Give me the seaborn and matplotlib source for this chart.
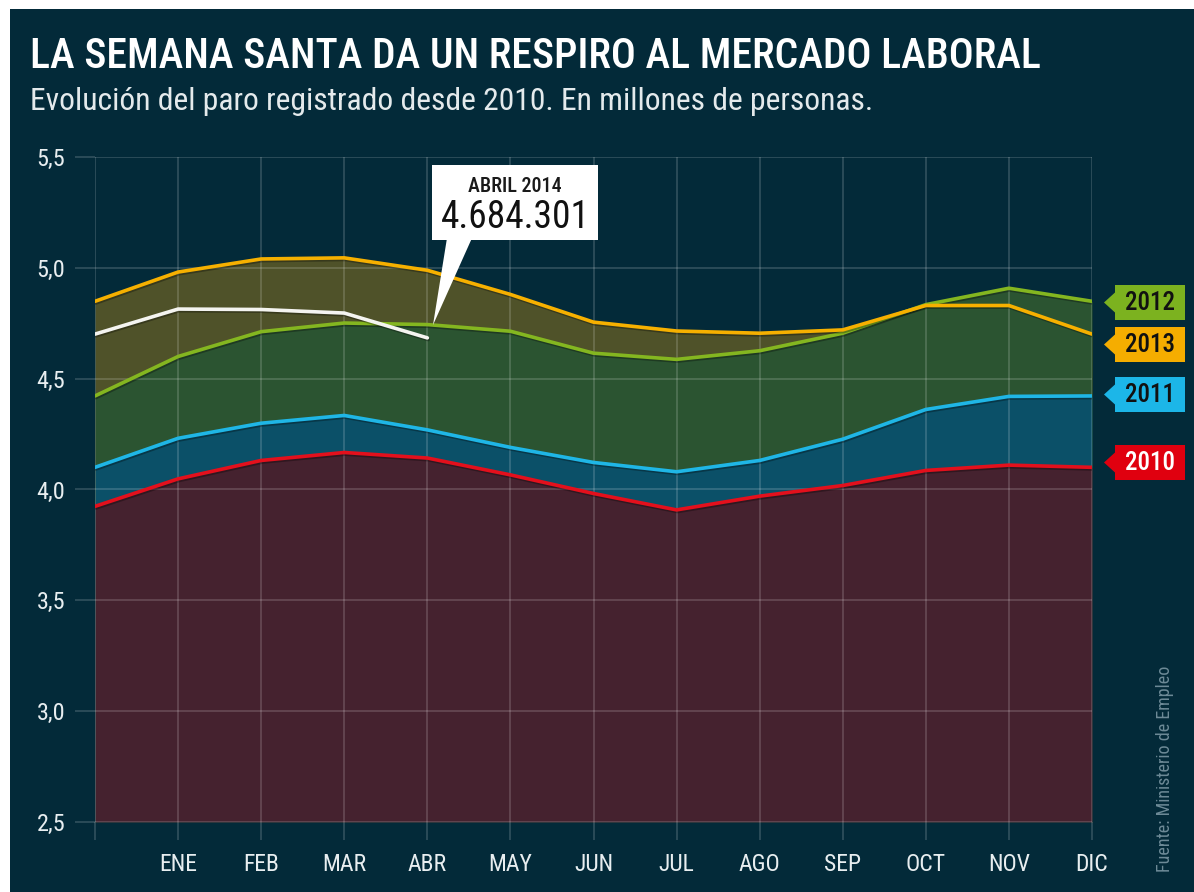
import numpy as np
import pandas as pd
import seaborn as sns
import matplotlib
matplotlib.use("Agg")
import matplotlib.pyplot as plt
import matplotlib.patheffects as pe
from matplotlib.patches import Rectangle, Polygon

# ---------------- data (millions of registered unemployed) ----------------
months = ["", "ENE", "FEB", "MAR", "ABR", "MAY", "JUN", "JUL", "AGO", "SEP", "OCT", "NOV", "DIC"]
y2010 = [3.924, 4.048, 4.131, 4.167, 4.142, 4.066, 3.982, 3.908, 3.970, 4.018, 4.086, 4.110, 4.100]
y2011 = [4.100, 4.231, 4.299, 4.334, 4.269, 4.190, 4.122, 4.080, 4.131, 4.227, 4.361, 4.420, 4.422]
y2012 = [4.422, 4.600, 4.712, 4.751, 4.744, 4.714, 4.615, 4.587, 4.626, 4.705, 4.834, 4.908, 4.849]
y2013 = [4.849, 4.981, 5.040, 5.045, 4.989, 4.880, 4.755, 4.715, 4.705, 4.720, 4.830, 4.830, 4.701]
y2014 = [4.701, 4.814, 4.812, 4.796, 4.684]
yticks = [2.5, 3.0, 3.5, 4.0, 4.5, 5.0, 5.5]
ytick_labels = ["2,5", "3,0", "3,5", "4,0", "4,5", "5,0", "5,5"]

W, H = 1194, 892
BG = "#032a39"
FONT = ["Roboto Condensed", "Liberation Sans Narrow", "Roboto", "DejaVu Sans"]

sns.set_theme(style="white")
plt.rcParams["font.family"] = FONT

fig = plt.figure(figsize=(W / 100, H / 100), dpi=100, facecolor="white")


def fx(px):
    return px / W


def fy(py):
    return 1 - py / H


fig.patches.append(Rectangle((fx(10), 0), 1, fy(9), transform=fig.transFigure,
                             facecolor=BG, edgecolor="none", zorder=-10))

ax = fig.add_axes([fx(95), fy(822), fx(1092) - fx(95), fy(157) - fy(822)])
ax.set_facecolor("none")
ax.set_zorder(1)

x = np.arange(len(months))
series = {
    "2013": (y2013, "#f6b000", "#4f5229"),
    "2012": (y2012, "#84b620", "#2b5431"),
    "2011": (y2011, "#1fb6e6", "#0b5068"),
    "2010": (y2010, "#e3101c", "#45222f"),
}

# overlapping area fills (drawn back to front)
for i, (name, (vals, lc, fc)) in enumerate(series.items()):
    ax.fill_between(x, 2.5, vals, color=fc, lw=0, zorder=1 + i * 0.1)

rows = []
for name, (vals, lc, fc) in series.items():
    for xi, v in zip(x, vals):
        rows.append({"x": xi, "valor": v, "año": name})
for xi, v in enumerate(y2014):
    rows.append({"x": xi, "valor": v, "año": "2014"})
df = pd.DataFrame(rows)

palette = {k: v[1] for k, v in series.items()}
palette["2014"] = "#f4f4f0"
shadow = [pe.SimpleLineShadow(offset=(0.6, -1.2), shadow_color="black", alpha=0.3), pe.Normal()]
for name in ["2010", "2011", "2012", "2013", "2014"]:
    sub = df[df["año"] == name]
    sns.lineplot(data=sub, x="x", y="valor", color=palette[name], lw=2.6, ax=ax,
                 zorder=4, legend=False, path_effects=shadow)

ax.set_xlim(0, 12)
ax.set_ylim(2.5, 5.5)
ax.set_xlabel("")
ax.set_ylabel("")
for s in ax.spines.values():
    s.set_visible(False)

grid_c = (1, 1, 1, 0.17)
ax.set_xticks(x)
ax.set_xticklabels(months)
ax.set_yticks(yticks)
ax.set_yticklabels(ytick_labels)
ax.set_axisbelow(False)
ax.grid(True, color="white", alpha=0.17, lw=1.3, zorder=2.5)
ax.tick_params(axis="x", length=13, width=1.3, color=grid_c, pad=9,
               labelsize=17, labelcolor="#e8eef0", bottom=True)
ax.tick_params(axis="y", length=14.5, width=1.3, color=grid_c, pad=7,
               labelsize=17.5, labelcolor="#e8eef0", left=True)

# titles
fig.text(fx(30), fy(56), "LA SEMANA SANTA DA UN RESPIRO AL MERCADO LABORAL",
         fontsize=30, fontweight="medium", color="white", va="center", ha="left")
fig.text(fx(30), fy(101), "Evolución del paro registrado desde 2010. En millones de personas.",
         fontsize=22.8, color="#e4eaec", va="center", ha="left")

# source
fig.text(fx(1165), fy(872), "Fuente: Ministerio de Empleo", rotation=90, fontsize=13,
         color="#6d8a97", ha="center", va="bottom")

# year tags on the right
tags = [("2012", 285, 320, "#7cb21f", "#111111"),
        ("2013", 327, 362, "#f5ad00", "#111111"),
        ("2011", 377, 412, "#1cb6e8", "#111111"),
        ("2010", 445, 480, "#e0000f", "white")]
for name, top, bot, col, tc in tags:
    mid = (top + bot) / 2
    pts = [(1115, top), (1185, top), (1185, bot), (1115, bot), (1115, mid + 10),
           (1104, mid), (1115, mid - 10)]
    fig.patches.append(Polygon([(fx(a), fy(b)) for a, b in pts], closed=True,
                               transform=fig.transFigure, facecolor=col, edgecolor="none",
                               zorder=5))
    fig.text(fx(1150), fy(mid + 1), name, fontsize=18, fontweight="medium", color=tc,
             ha="center", va="center", zorder=6)

# callout box
fig.patches.append(Polygon([(fx(a), fy(b)) for a, b in
                            [(447, 238), (472, 238), (433, 325)]], closed=True,
                           transform=fig.transFigure, facecolor="white", edgecolor="none",
                           zorder=6))
fig.patches.append(Rectangle((fx(432), fy(240)), fx(598) - fx(432), fy(165) - fy(240),
                             transform=fig.transFigure, facecolor="white",
                             edgecolor="none", zorder=6))
fig.text(fx(515), fy(186), "ABRIL 2014", fontsize=14.5, fontweight="medium", color="#1a1a1a",
         ha="center", va="center", zorder=7)
fig.text(fx(515), fy(218), "4.684.301", fontsize=27, color="#111111",
         ha="center", va="center", zorder=7)

fig.savefig("out.png", dpi=100, facecolor=fig.get_facecolor())
